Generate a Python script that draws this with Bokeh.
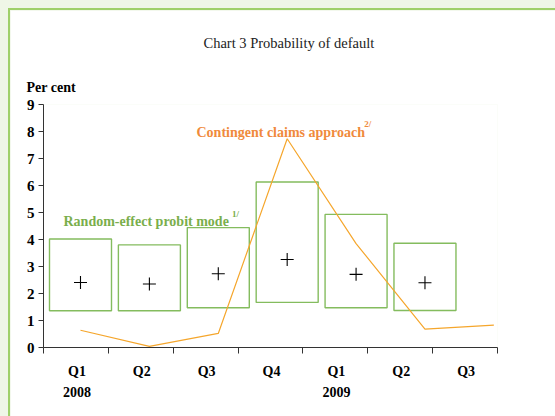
from bokeh.plotting import figure
from bokeh.models import (Range1d, FixedTicker, CustomJSTickFormatter, Label,
                          Title, ColumnDataSource, GlobalInlineStyleSheet)
from bokeh.embed import file_html
from bokeh.resources import INLINE

# ---- data ----
quarters = ["Q1", "Q2", "Q3", "Q4", "Q1", "Q2", "Q3"]
years = ["2008", "", "", "", "2009", "", ""]
box_high = [4.02, 3.80, 4.44, 6.13, 4.93, 3.86]
box_low = [1.36, 1.36, 1.47, 1.67, 1.47, 1.37]
box_mean = [2.41, 2.35, 2.73, 3.26, 2.71, 2.40]
cca = [0.64, 0.04, 0.52, 7.73, 3.85, 0.68, 0.83]
y_ticks = [0, 1, 2, 3, 4, 5, 6, 7, 8, 9]

GREEN = "#84bc5e"
GREEN_TXT = "#7aae4c"
ORANGE_LINE = "#f5a62c"
ORANGE_TXT = "#f08a3c"
SERIF = "Liberation Serif"

# axis geometry (category bands of the printed axis)
axis_start = -0.537
step = 0.9414
bounds = [axis_start + step * k for k in range(len(quarters) + 1)]
centers = [axis_start + step * (k + 0.5) + 0.015 for k in range(len(quarters))]

p = figure(width=547, height=408, output_backend="svg", toolbar_location=None,
           x_range=Range1d(axis_start, axis_start + step * len(quarters)),
           y_range=Range1d(0, 9),
           min_border_left=33, min_border_right=60, min_border_top=94,
           min_border_bottom=71)
p.stylesheets.append(GlobalInlineStyleSheet(
    css="html{background:#eff6e7;overflow:hidden;} "
        "body{background:#eff6e7;margin:8px 0 0 8px;padding:0;overflow:hidden;}"))
p.styles = {"border-left": "2px solid #9fd06a", "border-top": "2px solid #9fd06a"}
p.background_fill_color = "white"
p.border_fill_color = "white"
p.outline_line_color = None
p.xgrid.visible = False
p.ygrid.visible = False

# title and unit (above the frame)
p.title.text = "Chart 3 Probability of default"
p.title.align = "left"
p.title.offset = 160
p.title.standoff = 36
p.title.text_font = SERIF
p.title.text_font_style = "normal"
p.title.text_font_size = "14.5px"
p.title.text_color = "#222222"
p.add_layout(Title(text="Per  cent", align="left", offset=-17, standoff=19,
                   text_font=SERIF, text_font_style="bold",
                   text_font_size="14px", text_color="black"), "above")

# boxes
xb = list(range(len(box_high)))
src = ColumnDataSource(dict(
    left=[i - 0.45 for i in xb], right=[i + 0.45 for i in xb],
    top=box_high, bottom=box_low, x=xb, mean=box_mean))
p.quad(left="left", right="right", top="top", bottom="bottom", source=src,
       fill_color=None, line_color=GREEN, line_width=1.4)
p.scatter("x", "mean", source=src, marker="cross", size=13,
          line_color="black", line_width=1.1)

# contingent claims line
p.line(list(range(len(cca))), cca, line_color=ORANGE_LINE, line_width=1.2)

# axes
p.yaxis.ticker = FixedTicker(ticks=y_ticks)
p.yaxis.major_tick_out = 5
p.yaxis.major_tick_in = 0
p.yaxis.minor_tick_out = 0
p.yaxis.major_label_standoff = 4
p.yaxis.major_label_text_font = SERIF
p.yaxis.major_label_text_font_style = "bold"
p.yaxis.major_label_text_font_size = "15px"
p.yaxis.major_label_text_color = "black"
p.yaxis.axis_line_color = "#333333"
p.yaxis.major_tick_line_color = "#333333"

p.xaxis.ticker = FixedTicker(ticks=centers, minor_ticks=bounds)
p.xaxis.formatter = CustomJSTickFormatter(
    args=dict(names=quarters, years=years),
    code="return years[index] ? names[index] + '\\n' + years[index] : names[index];")
p.xaxis.major_tick_out = 0
p.xaxis.major_tick_in = 0
p.xaxis.minor_tick_out = 6
p.xaxis.minor_tick_in = 0
p.xaxis.minor_tick_line_color = "#333333"
p.xaxis.axis_line_color = "#333333"
p.xaxis.major_label_standoff = 10
p.xaxis.major_label_text_font = SERIF
p.xaxis.major_label_text_font_style = "bold"
p.xaxis.major_label_text_font_size = "14px"
p.xaxis.major_label_text_line_height = 1.4
p.xaxis.major_label_text_color = "black"

# series labels
p.add_layout(Label(x=1.684, y=7.97, text="Contingent  claims  approach",
                   text_align="left", text_baseline="alphabetic",
                   text_font=SERIF, text_font_style="bold",
                   text_font_size="14px", text_color=ORANGE_TXT))
p.add_layout(Label(x=4.12, y=8.27, text="2/", text_align="left",
                   text_baseline="alphabetic", text_font=SERIF,
                   text_font_style="bold", text_font_size="9px",
                   text_color=ORANGE_TXT))
p.add_layout(Label(x=-0.247, y=4.67, text="Random-effect  probit  mode",
                   text_align="left", text_baseline="alphabetic",
                   text_font=SERIF, text_font_style="bold",
                   text_font_size="14px", text_color=GREEN_TXT))
p.add_layout(Label(x=2.2, y=4.96, text="1/", text_align="left",
                   text_baseline="alphabetic", text_font=SERIF,
                   text_font_style="bold", text_font_size="9px",
                   text_color=GREEN_TXT))

open("out.html", "w").write(file_html(p, INLINE))
